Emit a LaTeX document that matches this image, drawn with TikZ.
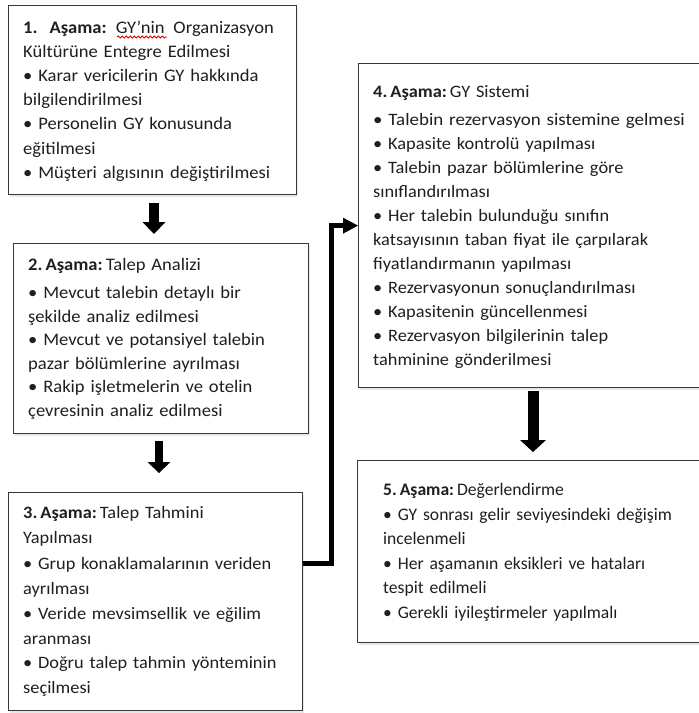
\documentclass[tikz,border=0pt]{standalone}
\usepackage{fontspec}
\setmainfont{Carlito}[FakeStretch=1.055]
\newfontfamily\plainfont{Carlito}
\newfontfamily\widefont{Carlito}[FakeStretch=1.09]
\usetikzlibrary{arrows.meta,shadows,decorations.pathmorphing}
\begin{document}
\begin{tikzpicture}[x=1pt,y=-1pt,
  box/.style={draw=black!78, line width=1.3pt, fill=white, anchor=north west, inner sep=0pt,
    drop shadow={shadow xshift=1.5pt, shadow yshift=-2pt, opacity=0.18}},
  txt/.style={inner sep=0pt, text width=340pt, align=left, anchor=base west, text=black!88},
  fatarrow/.style={draw=black, line width=#1},
  elbow/.style={draw=black, line width=4.5pt, -{Triangle[width=16pt,length=15pt,line width=0pt]}}
]
\useasboundingbox (0,0) rectangle (699,713);
% boxes
\node[box, minimum width=288pt, minimum height=189pt] (b1) at (8,5) {};
\node[box, minimum width=295pt, minimum height=190pt] (b2) at (13,243) {};
\node[box, minimum width=294pt, minimum height=218pt] (b3) at (8,492) {};
\node[box, minimum width=350pt, minimum height=324pt] (b4) at (358,63) {};
\node[box, minimum width=350pt, minimum height=182pt] (b5) at (357,460) {};
% texts
\node[txt, font=\fontsize{17.6}{24.2}\selectfont] (t1) at (23,33) {%
\textbf{1.\hspace{12pt}Aşama:}\hspace{9pt}GY’nin\hspace{9pt}Organizasyon\\
Kültürüne\hspace{6pt}Entegre Edilmesi\\
• Karar vericilerin GY hakkında\\
bilgilendirilmesi\\
• Personelin GY konusunda\\
eğitilmesi\\
• Müşteri algısının değiştirilmesi};
\node[txt, font=\fontsize{17.6}{23.6}\selectfont] (t2) at (28,270) {%
\textbf{2.\hspace{3pt}Aşama:}\hspace{3pt}Talep Analizi\\[4.9pt]
• Mevcut talebin detaylı bir\\
şekilde analiz edilmesi\\
• Mevcut ve potansiyel talebin\\
pazar bölümlerine\hspace{6pt}ayrılması\\
• Rakip işletmelerin ve otelin\\
çevresinin analiz edilmesi};
\node[txt, font=\fontsize{17.4}{24.8}\selectfont] (t3) at (23,518) {%
\textbf{3.\hspace{3pt}Aşama:}\hspace{3pt}Talep Tahmini\\[1pt]
Yapılması\\[1pt]
• Grup konaklamalarının\hspace{6pt}veriden\\
ayrılması\\
• Veride mevsimsellik ve eğilim\\
aranması\\
• Doğru talep tahmin yönteminin\\
seçilmesi};
\node[txt, font=\fontsize{17.4}{24}\selectfont] (t4) at (373,97) {%
\textbf{4.\hspace{3pt}Aşama:}\hspace{3pt}GY Sistemi\\[4pt]
{\widefont • Talebin rezervasyon sistemine gelmesi}\\
• Kapasite kontrolü\hspace{6pt}yapılması\\
• Talebin pazar bölümlerine\hspace{6pt}göre\\
sınıflandırılması\\
• Her talebin bulunduğu\hspace{6pt}sınıfın\\
katsayısının taban fiyat\hspace{6pt}ile çarpılarak\\
fiyatlandırmanın\hspace{6pt}yapılması\\
• Rezervasyonun sonuçlandırılması\\
• Kapasitenin güncellenmesi\\
• Rezervasyon bilgilerinin\hspace{6pt}talep\\
tahminine gönderilmesi};
\node[txt, font=\plainfont\fontsize{17.6}{24.5}\selectfont] (t5) at (383,495) {%
\textbf{5.\hspace{3pt}Aşama:}\hspace{3pt}Değerlendirme\\[0.5pt]
• GY sonrası gelir seviyesindeki değişim\\
incelenmeli\\
• Her aşamanın eksikleri ve hataları\\
tespit edilmeli\\
• Gerekli iyileştirmeler yapılmalı};
% spell-check squiggle
\draw[red!85!black, line width=0.8pt, decorate, decoration={snake, segment length=4pt, amplitude=1pt}] (117,37) -- (167,37);
% block arrows
\coordinate (a1s) at (154,203); \coordinate (a1e) at (154,234);
\coordinate (a2s) at (159,441); \coordinate (a2e) at (159,473);
\coordinate (a3s) at (533,391); \coordinate (a3e) at (533,452);
\draw[fatarrow=9.5pt, -{Triangle[width=23pt,length=12pt,line width=0pt]}] (a1s) -- (a1e);
\draw[fatarrow=8.5pt, -{Triangle[width=23pt,length=11pt,line width=0pt]}] (a2s) -- (a2e);
\draw[fatarrow=11pt, -{Triangle[width=26pt,length=12pt,line width=0pt]}] (a3s) -- (a3e);
% elbow connector
\draw[elbow] ([yshift=38pt]b3.east) -- ++(28,0) |- (b4.west);
\end{tikzpicture}
\end{document}
